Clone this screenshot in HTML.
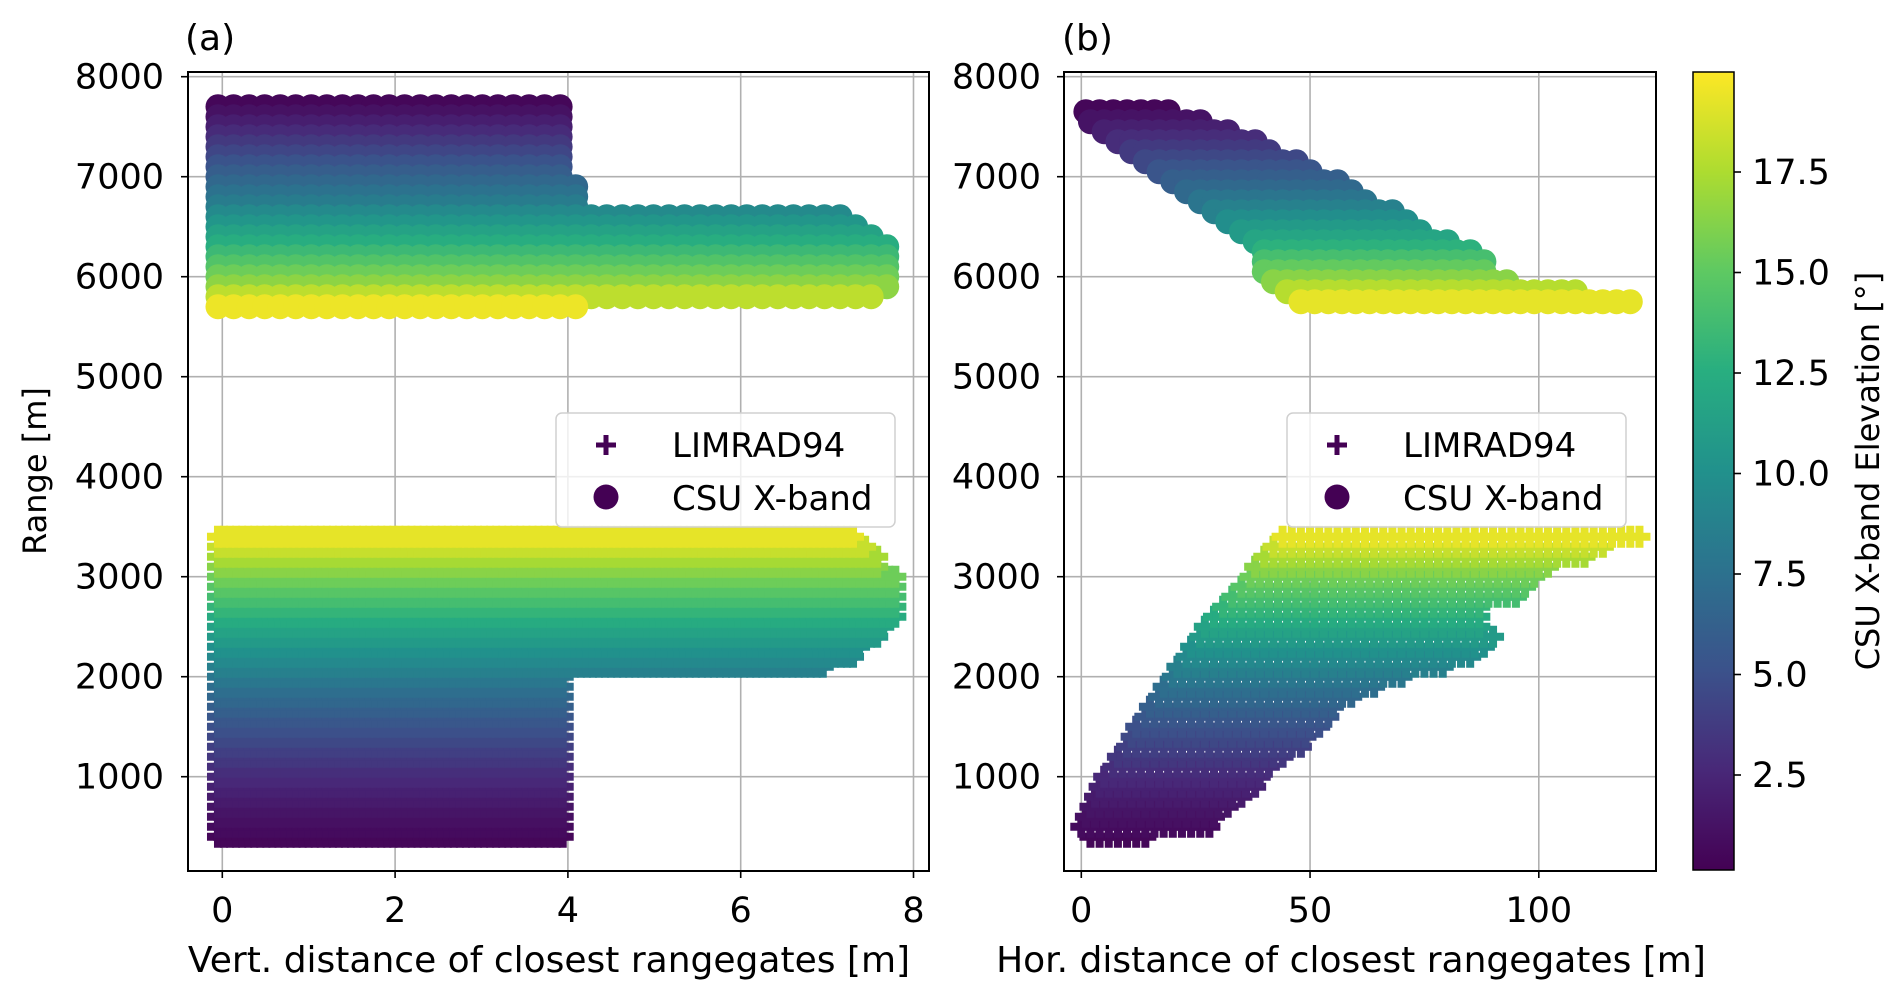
<!DOCTYPE html>
<html><head><meta charset="utf-8"><style>
html,body{margin:0;padding:0;background:#fff;}
svg{display:block;font-family:"DejaVu Sans","Liberation Sans",sans-serif;}
</style></head><body>
<svg id="fig" width="1892" height="999" viewBox="0 0 1892 999">
<defs>
<clipPath id="clipA"><rect x="188" y="72" width="741" height="799"/></clipPath>
<clipPath id="clipB"><rect x="1064" y="72" width="592" height="799"/></clipPath>
<linearGradient id="vgrad" x1="0" y1="1" x2="0" y2="0">
<stop offset="0" stop-color="#440154"/><stop offset="0.125" stop-color="#482878"/><stop offset="0.25" stop-color="#3b528b"/><stop offset="0.375" stop-color="#2c728e"/><stop offset="0.5" stop-color="#21918c"/><stop offset="0.625" stop-color="#28ae80"/><stop offset="0.75" stop-color="#5ec962"/><stop offset="0.875" stop-color="#addc30"/><stop offset="1" stop-color="#fde725"/>
</linearGradient>
</defs>
<g id="gridA"></g>
<g id="gridB"></g>
<g id="marksA" clip-path="url(#clipA)"></g>
<g id="marksB" clip-path="url(#clipB)"></g>
<g id="axesA"></g>
<g id="axesB"></g>
<text x="185" y="50" font-size="36">(a)</text>
<text x="1062" y="50" font-size="36">(b)</text>
<text x="549" y="972" font-size="36" text-anchor="middle">Vert. distance of closest rangegates [m]</text>
<text x="1351" y="972" font-size="36" text-anchor="middle">Hor. distance of closest rangegates [m]</text>
<text transform="translate(46,471) rotate(-90)" font-size="32" text-anchor="middle">Range [m]</text>
<rect x="1693" y="72" width="41" height="798" fill="url(#vgrad)" stroke="#000" stroke-width="1.5"/>
<g id="cbticks"></g>
<text transform="translate(1879,471) rotate(-90)" font-size="32" text-anchor="middle">CSU X-band Elevation [°]</text>
<g id="legA"></g>
<g id="legB"></g>
</svg>
<script>
// ---- data ----
const yTicks = [1000,2000,3000,4000,5000,6000,7000,8000];
const xTicksA = [0,2,4,6,8];
const xTicksB = [0,50,100];
const cbTicks = [2.5,5.0,7.5,10.0,12.5,15.0,17.5];
// Panel a CSU X-band rows
const csuARange = [7700,7600,7500,7400,7300,7200,7100,7000,6900,6800,6700,6600,6500,6400,6300,6200,6100,6000,5900,5800,5700];
const csuAElev  = [0.5,1.2,2.0,2.8,3.6,4.4,5.2,6.0,6.8,7.6,8.4,9.5,10.5,11.5,12.5,13.5,14.5,15.5,16.5,18.0,19.5];
const csuAXmax  = [4.0,4.0,4.0,4.0,4.0,4.0,4.0,4.0,4.1,4.1,4.1,7.2,7.5,7.6,7.7,7.8,7.8,7.85,7.8,7.6,4.1];
// LIMRAD94 rows (shared ranges/elevations)
const limRange = [400,500,600,700,800,900,1000,1100,1200,1300,1400,1500,1600,1700,1800,1900,2000,2100,2200,2300,2400,2500,2600,2700,2800,2900,3000,3100,3200,3300,3400];
const limElev  = [0.5,0.8,1.1,1.4,1.8,2.2,2.6,3.0,3.5,4.0,4.5,5.0,5.5,6.1,6.7,7.3,8.0,8.7,9.4,10.1,10.8,11.5,12.3,13.1,13.9,14.7,15.5,16.4,17.3,18.3,19.3];
const limAXmax = [4.0,4.0,4.0,4.0,4.0,4.0,4.0,4.0,4.0,4.0,4.0,4.0,4.0,4.0,4.0,4.0,4.0,7.0,7.3,7.4,7.6,7.7,7.8,7.8,7.8,7.8,7.8,7.6,7.6,7.5,7.3];
const limBXmin = [2,0,1,2,3,4,5,7,8,10,11,12,14,15,17,18,20,21,23,24,26,27,29,31,33,35,37,38,40,42,44];
const limBXmax = [14,28,30,33,36,38,40,42,45,48,50,52,54,56,60,64,70,80,85,88,90,88,88,87,95,98,100,102,110,115,122];
// Panel b CSU rows
const csuBRange = [7650,7550,7450,7350,7250,7150,7050,6950,6850,6750,6650,6550,6450,6350,6250,6150,6050,5950,5850,5750];
const csuBElev  = [0.5,1.3,2.1,2.9,3.7,4.5,5.3,6.1,6.9,7.8,8.8,9.8,10.8,11.8,12.8,14.0,15.2,16.4,17.8,19.3];
const csuBXmin  = [1,2,5,8,11,14,17,20,23,26,29,32,35,38,40,40,40,42,45,48];
const csuBXmax  = [20,27,33,38,43,48,52,56,60,64,68,72,76,80,86,88,90,95,110,120];

// ---- scales ----
const NS='http://www.w3.org/2000/svg';
const yS = v => 876.7 - v*0.1;
const xA = v => 222.3 + v*86.4;
const xB = v => 1081.3 + v*4.575;
const cbY = v => 775 - (v-2.5)*40.2;
const VMIN=0.14, VMAX=20;
const stops=[[68,1,84],[72,40,120],[59,82,139],[44,114,142],[33,145,140],[40,174,128],[94,201,98],[173,220,48],[253,231,37]];
function viridis(e){let t=Math.max(0,Math.min(1,(e-VMIN)/(VMAX-VMIN)))*8;let i=Math.min(7,Math.floor(t)),f=t-i;
 const c=stops[i].map((a,k)=>Math.round(a+(stops[i+1][k]-a)*f));return `rgb(${c[0]},${c[1]},${c[2]})`;}
function mk(tag,attrs,parent){const e=document.createElementNS(NS,tag);for(const k in attrs)e.setAttribute(k,attrs[k]);parent.appendChild(e);return e;}

function circle(g,x,y,col){const c=mk('circle',{cx:x,cy:y,r:12.5,fill:col},g);
 
 }
function plus(g,x,y,col){const p=mk('path',{d:`M${x-11},${y}H${x+11}M${x},${y-11}V${y+11}`,stroke:col,'stroke-width':8,fill:'none'},g);
 
 }

function grid(g,xs,xf,x0,x1){
 yTicks.forEach(t=>mk('line',{x1:x0,x2:x1,y1:yS(t),y2:yS(t),stroke:'#b0b0b0','stroke-width':1.6},g));
 xs.forEach(t=>mk('line',{x1:xf(t),x2:xf(t),y1:72,y2:871,stroke:'#b0b0b0','stroke-width':1.6},g));
}
grid(document.getElementById('gridA'),xTicksA,xA,188,929);
grid(document.getElementById('gridB'),xTicksB,xB,1064,1656);

// panel a marks
const mA=document.getElementById('marksA');
limRange.forEach((r,i)=>{const col=viridis(limElev[i]);for(let x=-0.05;x<=limAXmax[i]+1e-6;x+=0.07)plus(mA,xA(x),yS(r),col);});
csuARange.forEach((r,i)=>{const col=viridis(csuAElev[i]);for(let x=-0.05;x<=csuAXmax[i]+1e-6;x+=0.18)circle(mA,xA(x),yS(r),col);});
// panel b marks
const mB=document.getElementById('marksB');
limRange.forEach((r,i)=>{const col=viridis(limElev[i]);for(let x=limBXmin[i];x<=limBXmax[i]+1e-6;x+=2)plus(mB,xB(x),yS(r),col);});
csuBRange.forEach((r,i)=>{const col=viridis(csuBElev[i]);for(let x=csuBXmin[i];x<=csuBXmax[i]+1e-6;x+=3)circle(mB,xB(x),yS(r),col);});

function axes(g,x0,x1,xs,xf,labelRight){
 mk('rect',{x:x0,y:72,width:x1-x0,height:799,fill:'none',stroke:'#000','stroke-width':2},g);
 yTicks.forEach(t=>{mk('line',{x1:x0-7,x2:x0,y1:yS(t),y2:yS(t),stroke:'#000','stroke-width':1.6},g);
  const tx=mk('text',{x:labelRight,y:yS(t)+12,'font-size':35,'text-anchor':'end'},g);tx.textContent=t;
  
  });
 xs.forEach(t=>{mk('line',{x1:xf(t),x2:xf(t),y1:871,y2:878,stroke:'#000','stroke-width':1.6},g);
  const tx=mk('text',{x:xf(t),y:922,'font-size':35,'text-anchor':'middle'},g);tx.textContent=t;
  
  });
}
axes(document.getElementById('axesA'),188,929,xTicksA,xA,164);
axes(document.getElementById('axesB'),1064,1656,xTicksB,xB,1041);

const cb=document.getElementById('cbticks');
cbTicks.forEach(t=>{mk('line',{x1:1734,x2:1741,y1:cbY(t),y2:cbY(t),stroke:'#000','stroke-width':1.6},cb);
 const tx=mk('text',{x:1752,y:cbY(t)+12,'font-size':35},cb);tx.textContent=t.toFixed(1);
 
 });

function legend(g,x){
 mk('rect',{x:x,y:413,width:339,height:114,rx:6,fill:'rgba(255,255,255,0.8)',stroke:'#d0d0d0','stroke-width':1.5},g);
 const px=x+50;
 mk('path',{d:`M${px-10},445H${px+10}M${px},435V455`,stroke:'#440154','stroke-width':5,fill:'none'},g);
 mk('circle',{cx:px,cy:497,r:12.5,fill:'#440154'},g);
 const t1=mk('text',{x:x+116,y:457,'font-size':34},g);t1.textContent='LIMRAD94';
 
 
 const t2=mk('text',{x:x+116,y:510,'font-size':34},g);t2.textContent='CSU X-band';
 
 
}
legend(document.getElementById('legA'),556);
legend(document.getElementById('legB'),1287);
</script>
</body></html>
